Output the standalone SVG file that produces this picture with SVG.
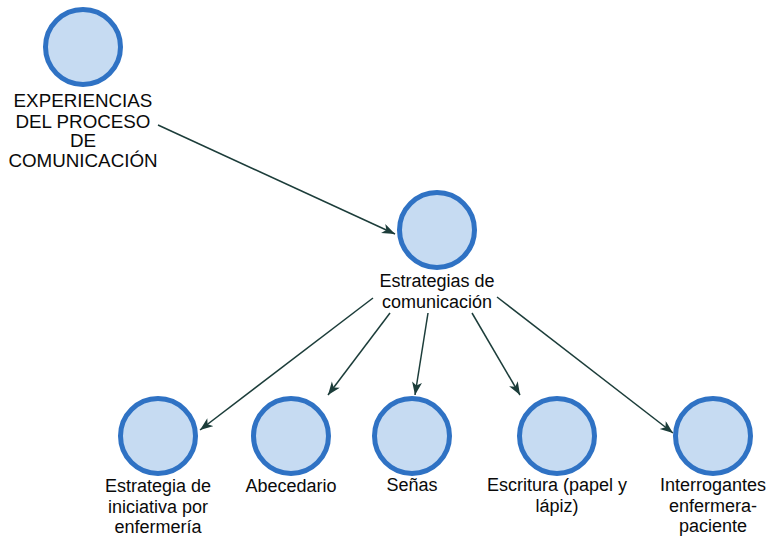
<svg xmlns="http://www.w3.org/2000/svg" width="771" height="537" viewBox="0 0 771 537">
<style>
.node{fill:#c6dbf2;stroke:#2f72c4;stroke-width:5}
.lbl{font-family:"Liberation Sans",Arial,sans-serif;font-size:18px;fill:#0a0a0a;text-anchor:middle}
.big{font-size:18.8px}
.edge{stroke:#1c3d3a;stroke-width:1.5;fill:none;marker-end:url(#arr)}
</style>
<defs>
<marker id="arr" markerUnits="userSpaceOnUse" markerWidth="14" markerHeight="12" refX="13" refY="5" orient="auto">
<path d="M0,0 L13,5 L0,10 L3.5,5 z" fill="#1c3d3a"/>
</marker>
</defs>
<rect width="771" height="537" fill="#fff"/>
<g id="connectors">
<line class="edge" x1="158" y1="125" x2="395" y2="234"/>
<line class="edge" x1="373" y1="298" x2="200" y2="430"/>
<line class="edge" x1="390" y1="313" x2="328" y2="395"/>
<line class="edge" x1="428" y1="313" x2="415" y2="395"/>
<line class="edge" x1="472" y1="313" x2="520" y2="395"/>
<line class="edge" x1="497" y1="297" x2="673" y2="433"/>
</g>
<g id="n-experiencias">
<circle class="node" cx="83" cy="47" r="37.5"/>
<text class="lbl big" x="83" y="107">EXPERIENCIAS</text>
<text class="lbl big" x="83" y="128">DEL PROCESO</text>
<text class="lbl big" x="83" y="147">DE</text>
<text class="lbl big" x="83" y="167">COMUNICACIÓN</text>
</g>
<g id="n-estrategias">
<circle class="node" cx="437" cy="230" r="37.5"/>
<text class="lbl" x="437" y="287">Estrategias de</text>
<text class="lbl" x="437" y="308">comunicación</text>
</g>
<g id="n-iniciativa">
<circle class="node" cx="158" cy="436" r="37.5"/>
<text class="lbl" x="158" y="492">Estrategia de</text>
<text class="lbl" x="158" y="513">iniciativa por</text>
<text class="lbl" x="158" y="533">enfermería</text>
</g>
<g id="n-abecedario">
<circle class="node" cx="291" cy="436" r="37.5"/>
<text class="lbl" x="291" y="492">Abecedario</text>
</g>
<g id="n-senas">
<circle class="node" cx="412" cy="436" r="37.5"/>
<text class="lbl" x="412" y="491">Señas</text>
</g>
<g id="n-escritura">
<circle class="node" cx="557" cy="436" r="37.5"/>
<text class="lbl" x="557" y="491">Escritura (papel y</text>
<text class="lbl" x="557" y="512">lápiz)</text>
</g>
<g id="n-interrogantes">
<circle class="node" cx="713" cy="436" r="37.5"/>
<text class="lbl" x="713" y="491">Interrogantes</text>
<text class="lbl" x="713" y="512">enfermera-</text>
<text class="lbl" x="713" y="532">paciente</text>
</g>
</svg>
